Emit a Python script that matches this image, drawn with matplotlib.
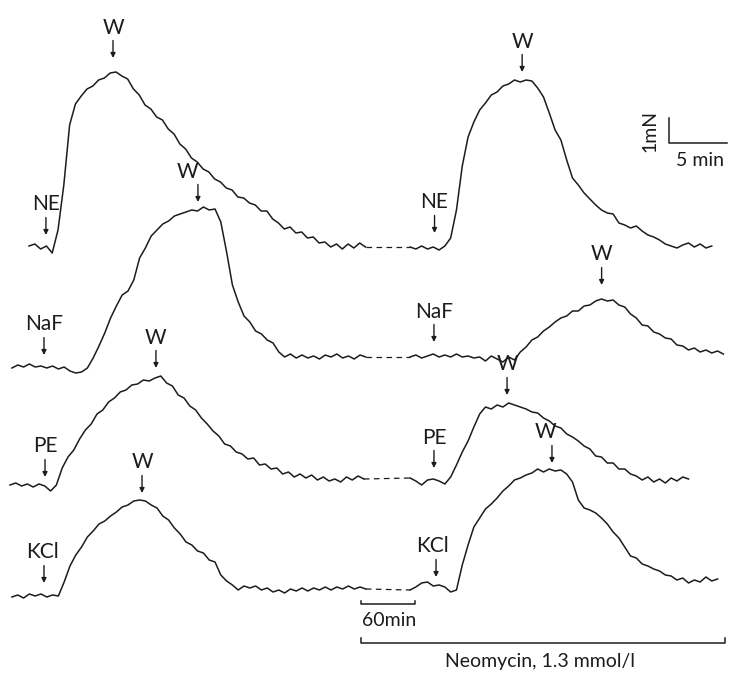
import numpy as np
import matplotlib
matplotlib.use("Agg")
import matplotlib.pyplot as plt

plt.rcParams["font.family"] = ["Lato", "DejaVu Sans"]

# isometric force records, one sample per half minute,
# force in mN above the resting tension of each strip
STEP = 0.5

ne_control = [0.04, 0.12, -0.08, 0.04, -0.24, 0.68, 2.48, 4.88, 5.72, 6.04, 6.32, 6.44, 6.68, 6.76, 6.96,
              7.0, 6.84, 6.72, 6.32, 6.08, 5.68, 5.52, 5.2, 5.08, 4.72, 4.52, 4.12, 3.92, 3.56, 3.4,
              3.12, 3.0, 2.72, 2.6, 2.36, 2.28, 2.0, 1.96, 1.76, 1.68, 1.44, 1.44, 1.12, 0.96, 0.72,
              0.8, 0.56, 0.6, 0.36, 0.4, 0.16, 0.2, 0.0, 0.12, -0.08, 0.12, -0.04, 0.16, 0.0]
ne_neomycin = [0.0, -0.08, 0.04, -0.08, 0.0, -0.12, 0.04, 0.36, 1.48, 3.24, 4.4, 5.0, 5.48, 5.76, 6.08,
               6.2, 6.44, 6.52, 6.68, 6.6, 6.68, 6.64, 6.36, 6.0, 5.36, 4.68, 4.28, 3.48, 2.76, 2.48,
               2.16, 1.92, 1.68, 1.48, 1.36, 1.32, 0.96, 0.88, 0.76, 0.84, 0.64, 0.48, 0.4, 0.28, 0.12,
               0.04, -0.04, 0.08, 0.16, 0.0, 0.12, -0.04, 0.04]

naf_control = [-0.44, -0.32, -0.4, -0.28, -0.4, -0.36, -0.44, -0.36, -0.48, -0.4, -0.56, -0.64, -0.6,
               -0.44, -0.04, 0.44, 0.96, 1.56, 2.04, 2.48, 2.64, 3.08, 3.96, 4.36, 4.84, 5.08, 5.32,
               5.44, 5.64, 5.72, 5.8, 5.88, 5.84, 6.0, 5.88, 5.92, 5.4, 4.2, 2.88, 2.2, 1.64, 1.4,
               1.04, 0.92, 0.68, 0.56, 0.2, 0.0, 0.12, -0.04, 0.08, -0.04, 0.04, -0.08, 0.08, 0.0,
               0.12, -0.04, 0.04, -0.08, 0.08, 0.0]
naf_neomycin = [0.0, 0.08, -0.04, 0.04, 0.12, 0.0, 0.08, 0.0, 0.12, 0.0, 0.04, -0.04, 0.0, -0.16, 0.04,
                -0.08, -0.2, 0.0, -0.12, 0.2, 0.4, 0.68, 0.8, 1.04, 1.2, 1.4, 1.56, 1.64, 1.84, 1.84,
                2.04, 2.08, 2.24, 2.32, 2.24, 2.28, 2.08, 2.0, 1.72, 1.56, 1.28, 1.24, 1.0, 0.92, 0.76,
                0.72, 0.48, 0.44, 0.28, 0.36, 0.2, 0.28, 0.16, 0.24, 0.12]

pe_control = [-0.24, -0.16, -0.28, -0.2, -0.32, -0.2, -0.28, -0.48, -0.24, 0.44, 0.88, 1.16, 1.6, 1.96,
              2.2, 2.6, 2.76, 3.08, 3.24, 3.48, 3.56, 3.76, 3.8, 3.96, 3.92, 4.04, 4.12, 3.84, 3.72,
              3.36, 3.24, 2.92, 2.76, 2.44, 2.2, 1.92, 1.72, 1.4, 1.32, 1.08, 1.0, 0.8, 0.84, 0.56,
              0.6, 0.4, 0.44, 0.2, 0.28, 0.08, 0.2, 0.04, 0.16, -0.04, 0.08, -0.08, 0.0, -0.12, 0.08,
              -0.04, 0.12, 0.0]
pe_neomycin = [0.04, -0.08, -0.24, -0.04, 0.0, -0.08, -0.2, 0.08, 0.56, 1.08, 1.52, 2.08, 2.6, 2.88, 2.8,
               2.96, 2.88, 3.04, 2.96, 2.88, 2.8, 2.68, 2.64, 2.44, 2.32, 2.12, 2.04, 1.8, 1.68, 1.52,
               1.32, 1.2, 0.92, 0.88, 0.64, 0.64, 0.4, 0.4, 0.2, 0.12, -0.04, 0.08, -0.12, 0.0, -0.16,
               0.04, -0.08, 0.08, 0.0]

kcl_control = [-0.32, -0.24, -0.36, -0.2, -0.28, -0.2, -0.32, -0.24, -0.28, 0.28, 0.92, 1.36, 1.68, 2.08,
               2.32, 2.6, 2.72, 2.92, 3.08, 3.28, 3.36, 3.52, 3.56, 3.52, 3.36, 3.24, 2.92, 2.76, 2.44,
               2.2, 1.88, 1.76, 1.52, 1.44, 1.16, 1.08, 0.56, 0.32, 0.16, -0.04, 0.12, 0.04, 0.12, -0.04,
               0.04, -0.12, -0.04, -0.16, 0.0, -0.08, 0.04, -0.08, 0.04, -0.04, 0.08, -0.04, 0.08, 0.0,
               0.12, 0.0, 0.08, 0.0]
kcl_neomycin = [-0.04, 0.08, 0.24, 0.28, 0.12, 0.16, 0.08, -0.12, -0.04, 0.96, 1.76, 2.48, 2.84, 3.2, 3.4,
                3.64, 3.92, 4.12, 4.36, 4.44, 4.56, 4.64, 4.8, 4.68, 4.8, 4.72, 4.76, 4.6, 4.28, 3.56,
                3.24, 3.16, 3.04, 2.84, 2.6, 2.28, 2.04, 1.68, 1.32, 1.24, 1.0, 0.92, 0.8, 0.72, 0.56,
                0.52, 0.36, 0.44, 0.24, 0.36, 0.28, 0.48, 0.32, 0.4]

# page layout: resting level of each row (mN) and where each record starts (min)
ROWS = [(ne_control, ne_neomycin, 17.04, 2.5),
        (naf_control, naf_neomycin, 12.64, 1.03),
        (pe_control, pe_neomycin, 7.76, 0.86),
        (kcl_control, kcl_neomycin, 3.36, 1.03)]
NEO_START = 35.34

# (label, text x, arrow x, arrow tip) for drug additions and washouts
MARKS = [("NE", 3.96, 3.96, 17.52), ("W", 9.74, 9.74, 24.6),
         ("NaF", 3.79, 3.79, 12.72), ("W", 16.2, 17.06, 18.84),
         ("PE", 3.92, 3.88, 7.84), ("W", 13.44, 13.44, 12.2),
         ("KCl", 3.62, 3.79, 3.6), ("W", 12.24, 12.24, 7.2),
         ("NE", 37.4, 37.45, 17.6), ("W", 45.0, 45.0, 24.04),
         ("NaF", 37.4, 37.4, 13.24), ("W", 51.8, 51.85, 15.52),
         ("PE", 37.45, 37.4, 8.2), ("W", 43.7, 43.7, 11.12),
         ("KCl", 37.3, 37.58, 3.84), ("W", 47.0, 47.57, 8.4)]

INK = "#1c1c1c"

fig = plt.figure(figsize=(7.31, 6.73), dpi=100)
ax = fig.add_axes([0, 0, 1, 1])
ax.set_xlim(0, 63)
ax.set_ylim(0, 26.92)
ax.axis("off")

for control, neo, rest, start in ROWS:
    t1 = start + STEP * np.arange(len(control))
    y1 = rest + np.asarray(control)
    t2 = NEO_START + STEP * np.arange(len(neo))
    y2 = rest + np.asarray(neo)
    ax.plot(t1, y1, color=INK, lw=1.1)
    ax.plot(t2, y2, color=INK, lw=1.1)
    # break in the record while the strip is in neomycin
    ax.plot([t1[-1], t2[0]], [y1[-1], y2[0]], color=INK, lw=0.9, ls=(0, (4.5, 3.5)))

for label, xt, xa, tip in MARKS:
    ax.annotate("", xy=(xa, tip), xytext=(xa, tip + 0.7),
                arrowprops=dict(arrowstyle="-|>", mutation_scale=7, lw=1.0,
                                color=INK, shrinkA=0, shrinkB=0))
    ax.text(xt, tip + 0.98, label, ha="center", va="baseline", fontsize=15, color=INK)

# calibration: 1 mN / 5 min
ax.plot([57.66, 57.66, 62.66], [22.2, 21.2, 21.2], color=INK, lw=1.1)
ax.text(56.0, 21.7, "1mN", rotation=90, ha="center", va="center", fontsize=14, color=INK)
ax.text(60.3, 20.5, "5 min", ha="center", va="center", fontsize=14, color=INK)

# 60 min gap and neomycin exposure
ax.plot([31.11, 31.11, 35.77, 35.77], [2.88, 2.76, 2.76, 2.88], color=INK, lw=1.1)
ax.text(33.5, 2.08, "60min", ha="center", va="center", fontsize=14, color=INK)
ax.plot([31.11, 31.11, 62.48, 62.48], [1.4, 1.2, 1.2, 1.4], color=INK, lw=1.1)
ax.text(46.54, 0.46, "Neomycin, 1.3 mmol/l", ha="center", va="center", fontsize=14, color=INK)

fig.savefig("out.png", dpi=100, facecolor="white")
